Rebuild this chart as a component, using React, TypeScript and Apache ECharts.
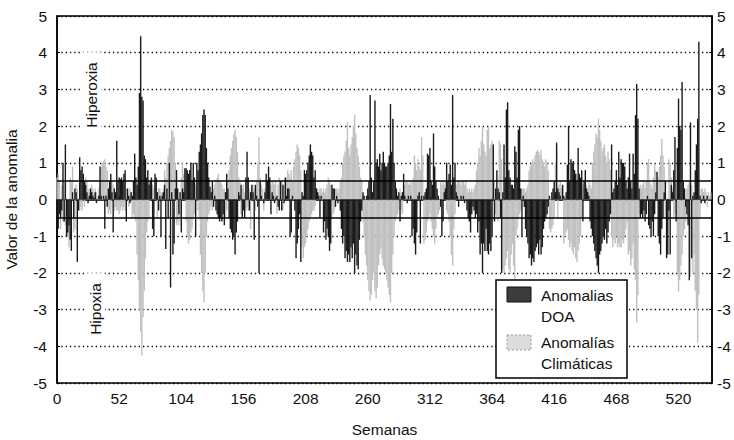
import React, { useEffect, useRef } from "react";
import * as echarts from "echarts";

// Weekly anomaly values (week 0 .. 547)
const doaAnomalies: number[] = [
  -0.6, -0.8, -0.4, -0.5, -0.3, 1.0, -0.6, 1.5, -1.0, -0.9,
  -0.7, -1.1, -1.4, 0.2, -0.5, 0.3, 0.2, -1.7, -0.3, 1.15,
  0.8, 0.9, 0.7, 0.5, 0.4, 0.2, -0.1, 0.1, 0.3, 0.2,
  0.1, 0.05, 0.2, -0.1, 0.0, 0.1, 0.9, 0.1, 0.0, 0.1,
  -0.8, 0.1, -0.2, 0.3, 0.5, 0.7, 0.2, -0.9, 0.3, 0.2,
  1.6, 0.5, 0.6, 0.55, 0.6, 0.5, 0.7, 0.8, -0.6, 0.3,
  0.1, -0.1, 0.2, 0.1, 0.5, 1.25, 0.6, 0.4, 0.9, 2.9,
  4.45, 2.8, 2.7, 1.2, 1.1, 0.6, 0.8, 0.4, 0.5, 0.6,
  -0.8, -1.0, 0.7, 0.6, 0.2, -0.3, 0.1, -1.0, 0.1, 0.2,
  0.4, -1.35, 0.3, -0.5, 1.0, -2.4, 0.2, -1.5, -1.2, 0.3,
  0.8, 0.3, -0.4, 0.2, -0.9, 0.3, 0.2, 0.85, 0.85, 0.8,
  0.7, 0.8, 1.0, 0.5, 1.0, 0.6, -1.0, 1.0, 0.8, 1.3,
  1.5, 1.8, 2.3, 2.45, 2.3, 1.4, 1.0, 0.6, 0.35, 0.2,
  0.5, -0.2, 0.1, -0.3, -0.4, -0.5, -0.6, -0.5, -0.6, -0.4,
  -0.7, 0.2, 0.7, 0.3, -0.5, -0.8, -0.9, -1.1, -1.0, -1.5,
  -0.9, -0.6, 0.2, 0.1, 0.4, -0.5, -0.3, -0.5, 0.6, 1.3,
  0.6, -0.3, 0.2, 0.4, 0.2, -1.1, 0.4, 0.1, -0.2, -2.0,
  0.5, 0.1, 0.0, -0.1, 0.2, 0.7, 0.5, 0.9, 0.6, -0.4,
  0.2, 0.1, -0.1, 0.05, 0.1, -0.2, -0.3, 0.5, -0.3, 0.4,
  -0.1, 0.6, 0.1, 0.3, 0.3, -1.0, -0.9, 0.1, 0.0, -0.3,
  -1.6, -1.2, -0.8, -0.4, -1.7, 0.2, 0.1, 0.8, 0.7, 0.8,
  1.0, 1.2, 1.5, 1.3, 1.2, 0.6, 0.8, 0.3, 0.2, 0.1,
  -0.5, 0.1, 0.0, -0.9, -0.6, -1.1, -0.8, -1.0, -1.4, -1.2,
  0.4, 0.3, 0.3, -0.2, 0.1, -0.1, 0.0, -0.3, -0.8, -1.2,
  -1.0, -1.6, -1.4, -1.7, -1.5, -1.7, -1.3, -1.6, -1.2, -2.0,
  -1.5, -1.8, -1.9, -1.1, -0.6, -0.3, 0.2, 0.1, 0.0, 0.1,
  0.3, 0.5, 2.85, 0.6, 0.2, 0.5, 2.7, 1.0, 1.1, 0.9,
  1.25, 0.8, 1.0, 1.3, 1.0, 0.9, 0.9, 1.0, 1.2, 2.6,
  1.3, 2.2, 1.0, 0.5, 0.3, 0.1, 0.2, -0.6, 0.1, 0.2,
  0.7, 0.1, 0.0, -0.1, 0.1, 0.0, 0.1, -1.0, -0.8, -1.2,
  -1.5, -0.9, 0.1, 0.2, -1.2, 0.1, 0.0, 0.1, 0.2, 0.3,
  1.25, 1.2, 1.4, 0.5, 0.4, 1.8, 0.9, 0.5, 0.3, 0.1,
  0.0, -0.2, -1.0, -0.6, 0.2, 0.3, 1.0, 0.5, 0.7, 0.95,
  0.4, 2.85, 0.6, 1.0, 0.2, 0.1, -0.2, 0.0, 0.1, 0.0,
  0.1, -0.1, 0.0, -0.3, -0.5, -0.6, -0.9, -0.4, -0.2, -0.3,
  -0.5, -0.4, -0.9, -0.6, -1.5, -1.2, -2.0, -1.2, -1.4, -0.8,
  -1.4, -1.5, -1.2, -1.4, -1.0, 1.5, -0.6, 0.3, 0.8, 0.3,
  0.2, -0.5, -2.0, 0.2, 1.5, 0.6, 2.45, 2.65, 0.8, 0.6,
  0.4, 0.4, 0.3, 1.45, 1.3, 0.6, 1.9, 2.0, 0.3, -1.0,
  0.1, -0.2, -0.8, -1.0, -1.2, -1.6, -1.5, -1.8, -1.6, -1.7,
  -1.4, -1.3, -1.2, -1.5, -1.1, -1.5, -1.3, -0.8, -0.6, -0.5,
  -0.4, -0.2, 0.1, 0.0, 0.2, 0.3, 0.5, 0.2, 1.55, 0.3,
  0.2, 0.1, 0.0, 0.4, 0.1, 0.0, 0.2, 0.95, 2.0, 0.5,
  1.1, 1.0, 1.05, 0.8, 0.7, 0.5, 1.4, 0.7, 0.6, 0.8,
  -0.6, 0.5, 0.8, 0.3, 0.2, 0.1, -0.6, -0.8, -1.0, -1.2,
  -1.4, -1.6, -1.8, -2.0, -1.5, -1.4, -1.2, -1.0, -1.1, -0.8,
  -1.2, -0.9, -0.6, -0.4, 1.5, 0.2, 0.3, 0.5, 0.8, 0.4,
  1.3, 0.6, 1.1, 1.0, 1.0, 0.9, 0.5, 0.3, 0.6, 1.25,
  0.5, 0.3, 1.25, 0.7, 2.3, 3.15, 2.2, 0.3, -0.5, -0.4,
  -0.5, -0.3, -0.6, -0.4, 0.1, -0.7, -0.8, -1.0, -0.6, -1.0,
  -0.4, 0.2, 0.75, -1.0, -1.2, -1.5, -0.8, -0.5, 0.2, 0.5,
  -1.6, -1.5, -0.3, -1.5, 0.4, 0.2, 0.8, 1.7, -0.6, 1.4,
  2.75, 2.0, 1.9, 3.2, 0.5, 0.3, -0.2, -0.4, -0.7, -2.2,
  2.1, -1.6, 0.1, 0.2, 0.8, 1.5, 2.2, 4.3, 0.1, -0.1,
  0.0, 0.1, -0.1, 0.0, 0.1, 0.0, 0.0, 0.0,
];

const climaticAnomalies: number[] = [
  0.6, 0.7, 0.5, -0.8, 0.4, -0.6, 0.5, -0.7, -0.9, -1.0,
  -1.3, 0.6, 0.5, 0.9, -0.9, -0.8, 0.4, 0.3, -0.3, -0.3,
  -0.2, -0.3, 0.5, -0.2, 0.6, 0.5, 0.3, 0.2, 0.1, 0.4,
  0.3, 0.2, 0.3, 0.2, 0.1, 0.3, 0.4, 0.9, 1.0, 1.05,
  1.1, 0.9, 0.8, -0.4, -0.3, -0.4, 0.5, 0.4, -0.3, -0.2,
  -0.3, -0.3, -0.4, -0.3, -0.2, -0.3, -0.2, -0.3, 0.3, 0.2,
  -0.2, 0.3, 0.2, -0.5, -0.4, -0.5, -0.6, -1.5, -2.2, -3.0,
  -3.6, -4.25, -3.2, -2.5, -1.6, -0.9, -0.6, -0.5, 0.4, 0.3,
  0.4, 0.3, 0.4, 0.3, -0.5, 0.3, 0.3, 0.2, 0.2, 0.3,
  0.8, 0.6, 1.0, 1.2, 1.4, 1.6, 1.9, 1.85, 1.7, 1.0,
  -0.7, -0.6, -0.7, -0.5, 0.6, 1.0, 0.7, 0.3, -0.6, -1.0,
  -1.2, -1.1, -0.9, -0.8, -0.5, -0.4, 0.4, 0.3, -0.3, -0.5,
  -1.5, -2.0, -2.5, -2.8, -2.0, -1.0, -0.6, -0.4, -0.3, -0.2,
  -0.3, 0.3, 0.4, 0.5, 0.6, 0.7, 0.5, 0.5, 0.4, 0.3,
  0.3, -0.5, -0.3, 0.5, 0.8, 1.2, 1.4, 1.6, 1.8, 1.9,
  1.7, 1.3, 0.6, 0.5, -0.4, 0.3, 0.4, 0.2, -0.3, -0.2,
  -0.3, 0.3, -0.8, 0.3, 0.4, 0.3, -0.3, 0.5, 1.0, 1.7,
  0.6, 0.4, 0.3, -0.3, 0.3, 0.3, 0.2, 0.3, 0.2, 0.4,
  0.5, 0.5, 0.4, 0.5, -0.4, 0.4, 0.6, 0.3, 0.5, -0.3,
  0.4, 0.3, 0.6, 0.8, 0.7, 0.6, 0.8, 0.5, 0.9, 1.1,
  1.3, 1.5, 1.4, 1.2, 0.8, -1.3, -1.6, -1.3, -1.2, -1.0,
  -0.8, -0.6, -0.5, -0.4, -0.3, -0.3, -0.2, 0.3, 0.3, 0.2,
  0.3, 0.3, 0.2, 0.3, 0.2, 0.3, 0.4, 0.6, 0.5, 0.4,
  -0.5, -0.4, -0.3, 0.3, 0.3, 0.2, 0.3, 0.5, 0.6, 1.0,
  1.2, 1.3, 1.6, 2.1, 1.4, 1.2, 1.5, 1.7, 2.0, 2.3,
  1.8, 1.4, 1.2, 0.9, 0.6, 0.5, -0.6, -1.0, -1.5, -1.8,
  -2.2, -2.5, -2.75, -2.6, -2.2, -2.0, -2.5, -2.7, -2.4, -1.8,
  -1.5, -1.3, -1.6, -1.8, -1.9, -2.0, -2.2, -2.4, -2.6, -2.8,
  -2.0, -1.5, -1.0, -0.6, -0.5, -0.4, -0.3, 0.3, -0.3, -0.4,
  0.3, 0.4, 0.5, 0.5, 0.4, 0.5, 0.4, 0.5, 0.6, 1.2,
  1.0, 0.8, 1.1, 0.9, 0.8, 1.7, 1.2, -1.2, -1.1, -0.9,
  -0.6, -0.5, -0.4, -0.6, -0.8, -1.0, -1.2, -0.8, -0.5, -0.4,
  -0.3, 0.5, 0.4, 0.5, 0.4, 0.5, -0.3, -0.4, -0.6, -1.0,
  -1.5, -1.8, -0.8, -0.4, 0.4, 0.5, 0.5, 0.5, 0.4, 0.5,
  0.5, 0.4, 0.5, 0.3, 0.2, 0.3, 0.2, 0.3, 0.2, 0.3,
  0.4, 0.8, 1.0, 1.4, 1.2, 1.6, 2.0, 1.5, 1.3, 1.2,
  1.9, 2.0, 1.4, 1.5, 1.6, 0.6, 0.5, -0.4, -0.5, -0.6,
  1.6, 1.5, 1.1, -1.9, -2.0, -1.8, -1.6, -1.4, -1.9, -2.0,
  -1.5, -1.2, -1.8, -2.2, -1.0, -0.8, -0.5, -0.4, -0.3, 0.3,
  0.3, 0.3, 0.2, 0.3, 0.4, 0.8, 0.9, 1.0, 1.1, 1.0,
  1.2, 1.3, 1.35, 1.3, 1.2, 1.35, 1.1, 1.0, 0.9, 1.1,
  1.0, 0.8, -0.8, -0.9, -0.8, -0.7, -0.5, 1.0, 1.4, -0.5,
  0.4, 0.5, 0.3, 0.4, -1.2, -1.0, -0.9, -0.8, -1.1, -1.3,
  -1.2, -1.4, -1.5, -1.3, -1.6, -1.7, -1.4, -1.2, -1.0, -0.5,
  0.4, 0.3, 0.3, 0.4, 0.3, 0.5, 0.4, 0.3, 1.0, 1.3,
  1.5, 1.8, 1.7, 2.2, 1.9, 1.6, 1.3, 1.4, 1.5, 1.2,
  1.0, 1.3, 1.1, 0.8, -1.0, -1.3, -1.1, -1.2, -1.0, -1.3,
  -1.2, -1.3, -1.3, -1.1, -1.2, -1.0, -0.8, -0.6, -1.5, -1.4,
  -1.8, -1.6, -1.2, -1.9, -2.2, -3.35, -2.6, -0.4, 0.4, 0.3,
  0.4, 0.5, 0.3, 0.5, 1.0, 1.1, 0.5, 0.4, 0.3, 0.6,
  1.0, 0.8, 0.5, 0.6, 0.9, 1.2, 1.65, 1.2, 0.9, -0.5,
  -0.5, -0.6, 1.1, 1.0, 0.6, 0.3, -0.5, -0.4, 0.5, -2.0,
  -2.5, -2.2, -1.8, -1.5, -1.0, -0.8, -0.6, 0.3, 0.4, 0.5,
  -2.1, 0.4, -2.0, -1.5, -2.5, -3.0, -3.9, -2.6, -0.5, 0.3,
  0.3, 0.2, 0.3, 0.2, -0.2, 0.2, 0.1, 0.2,
];

const weekTickStep = 52;
const weekMax = 548;
const thresholds = [0.5, -0.5];
const legendLabels = [
  ["Anomalias", "DOA"],
  ["Anomalías", "Climáticas"],
];
const zoneLabels = ["Hiperoxia", "Hipoxia"];

const FONT = "'Liberation Sans', Arial, Helvetica, sans-serif";
const FS = 15.5;
const DARK = "#1a1a1a";
const LIGHT = "#c0c0c0";

export default function App() {
  const ref = useRef<HTMLDivElement>(null);

  useEffect(() => {
    if (!ref.current) return;
    const chart = echarts.init(ref.current, null, { renderer: "svg" });

    const doaData = doaAnomalies.map((v, i) => [i, v]);
    const climData = climaticAnomalies.map((v, i) => [i, v]);

    const textBase = { fontFamily: FONT, fontSize: FS, fill: "#111" };

    const option: any = {
      animation: false,
      backgroundColor: "#fff",
      textStyle: { fontFamily: FONT },
      grid: {
        left: 57,
        right: 22,
        top: 16,
        bottom: 57,
        containLabel: false,
        outerBoundsMode: "none",
        show: true,
        borderColor: "#000",
        borderWidth: 1.5,
        backgroundColor: "transparent",
      },
      xAxis: {
        type: "value",
        min: 0,
        max: weekMax,
        interval: weekTickStep,
        name: "Semanas",
        nameLocation: "middle",
        nameGap: 38,
        nameTextStyle: { fontFamily: FONT, fontSize: FS, color: "#111" },
        axisLine: { show: true, lineStyle: { color: "#000", width: 1.5 } },
        axisTick: { show: true, inside: true, length: 3, lineStyle: { color: "#000" } },
        axisLabel: {
          showMaxLabel: false,
          margin: 7,
          fontFamily: FONT,
          fontSize: FS,
          color: "#111",
        },
        splitLine: { show: false },
      },
      yAxis: [
        {
          type: "value",
          min: -5,
          max: 5,
          interval: 1,
          name: "Valor de la anomalia",
          nameLocation: "middle",
          nameGap: 38,
          nameTextStyle: { fontFamily: FONT, fontSize: FS, color: "#111" },
          axisLine: { show: true, lineStyle: { color: "#000", width: 1.5 } },
          axisTick: { show: true, inside: true, length: 3, lineStyle: { color: "#000" } },
          axisLabel: { margin: 10, fontFamily: FONT, fontSize: FS, color: "#111" },
          splitLine: {
            show: true,
            lineStyle: { color: "#000", width: 1.3, type: [1.3, 3] },
          },
        },
        {
          type: "value",
          min: -5,
          max: 5,
          interval: 1,
          position: "right",
          axisLine: { show: true, lineStyle: { color: "#000", width: 1.5 } },
          axisTick: { show: true, inside: true, length: 3, lineStyle: { color: "#000" } },
          axisLabel: { margin: 5, fontFamily: FONT, fontSize: FS, color: "#111" },
          splitLine: { show: false },
        },
      ],
      series: [
        {
          name: "Anomalías Climáticas",
          type: "bar",
          data: climData,
          barWidth: 1.4,
          barGap: "-100%",
          itemStyle: { color: LIGHT },
          z: 2,
        },
        {
          name: "Anomalias DOA",
          type: "bar",
          data: doaData,
          barWidth: 1.4,
          barGap: "-100%",
          itemStyle: { color: DARK },
          z: 3,
          markLine: {
            silent: true,
            symbol: "none",
            label: { show: false },
            lineStyle: { color: "#000", width: 1.5, type: "solid" },
            data: thresholds.map((t) => ({ yAxis: t })),
            z: 5,
          },
        },
      ],
      graphic: [
        {
          type: "text",
          x: 91,
          y: 95,
          rotation: Math.PI / 2,
          z: 10,
          style: {
            ...textBase,
            text: zoneLabels[0],
            align: "center",
            verticalAlign: "middle",
            backgroundColor: "#fff",
            padding: [2, 10],
          },
        },
        {
          type: "text",
          x: 95,
          y: 309,
          rotation: Math.PI / 2,
          z: 10,
          style: {
            ...textBase,
            text: zoneLabels[1],
            align: "center",
            verticalAlign: "middle",
            backgroundColor: "#fff",
            padding: [2, 10],
          },
        },
        {
          type: "rect",
          z: 20,
          shape: { x: 496, y: 280, width: 131, height: 98 },
          style: { fill: "#fff", stroke: "#000", lineWidth: 1.5 },
        },
        {
          type: "rect",
          z: 21,
          shape: { x: 507, y: 287, width: 24, height: 15 },
          style: { fill: "#3c3c3c", stroke: "#111", lineWidth: 1 },
        },
        {
          type: "rect",
          z: 21,
          shape: { x: 507, y: 335, width: 24, height: 15 },
          style: { fill: "#dcdcdc", stroke: "#999", lineWidth: 1, lineDash: [2, 2] },
        },
        {
          type: "text",
          z: 22,
          x: 541,
          y: 295,
          style: { ...textBase, text: legendLabels[0][0], verticalAlign: "middle" },
        },
        {
          type: "text",
          z: 22,
          x: 541,
          y: 316,
          style: { ...textBase, text: legendLabels[0][1], verticalAlign: "middle" },
        },
        {
          type: "text",
          z: 22,
          x: 541,
          y: 342,
          style: { ...textBase, text: legendLabels[1][0], verticalAlign: "middle" },
        },
        {
          type: "text",
          z: 22,
          x: 541,
          y: 363,
          style: { ...textBase, text: legendLabels[1][1], verticalAlign: "middle" },
        },
      ],
    };

    chart.setOption(option);
    return () => chart.dispose();
  }, []);

  return (
    <div
      ref={ref}
      style={{ position: "absolute", left: 0, top: 0, width: 734, height: 440 }}
    />
  );
}
